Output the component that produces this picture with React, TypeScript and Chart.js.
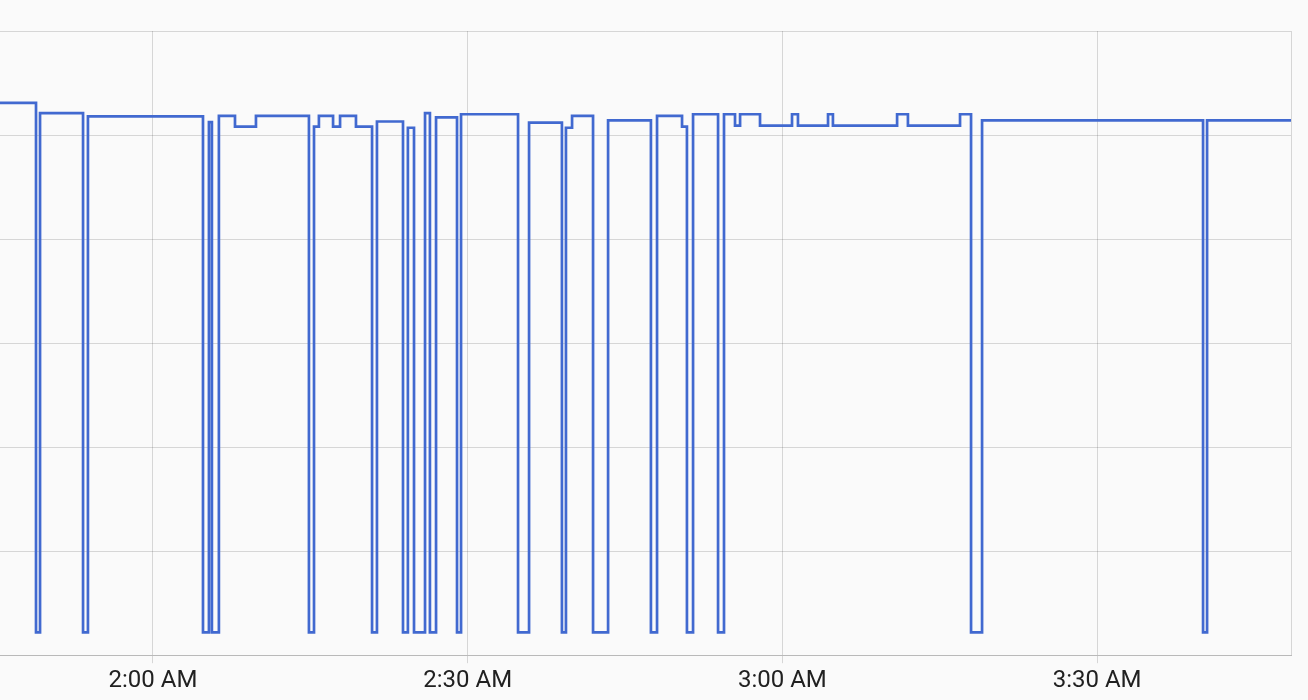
import { useEffect, useRef } from "react";
import { Chart, registerables } from "chart.js";

Chart.register(...registerables);

// Change times (HH:MM:SS, 24h) and the value that holds from each time on
const times = [
  "01:45:25", "01:48:51", "01:49:14", "01:53:20", "01:53:48", "02:04:46", "02:05:20", "02:05:37",
  "02:06:17", "02:07:49", "02:09:49", "02:14:52", "02:15:21", "02:15:49", "02:17:10", "02:17:50",
  "02:19:21", "02:20:53", "02:21:21", "02:23:50", "02:24:18", "02:24:53", "02:25:56", "02:26:24",
  "02:26:59", "02:28:59", "02:29:22", "02:34:48", "02:35:51", "02:38:59", "02:39:22", "02:39:57",
  "02:41:57", "02:43:23", "02:47:28", "02:48:03", "02:50:26", "02:50:54", "02:51:29", "02:53:52",
  "02:54:26", "02:55:29", "02:55:58", "02:57:52", "03:00:55", "03:01:29", "03:04:21", "03:04:49",
  "03:10:56", "03:11:58", "03:16:56", "03:17:59", "03:19:02", "03:40:06", "03:40:29", "03:48:29",
];
const values = [
  53.1, 2.2, 52.1, 2.2, 51.8, 2.2, 51.25, 2.2,
  51.85, 50.8, 51.85, 2.2, 50.8, 51.85, 50.8, 51.85,
  50.8, 2.2, 51.3, 2.2, 50.7, 2.2, 52.1, 2.2,
  51.7, 2.2, 52.0, 2.2, 51.2, 2.2, 50.7, 51.85,
  2.2, 51.4, 2.2, 51.85, 50.8, 2.2, 52.0, 2.2,
  52.0, 50.9, 52.0, 50.9, 52.0, 50.9, 52.0, 50.9,
  52.0, 50.9, 52.0, 2.2, 51.4, 2.2, 51.4, 51.4,
];
const xRange = ["01:45:25", "03:48:29"];
const xStepMinutes = 30;
const yMin = 0;
const yMax = 60;
const yStep = 10;

function toMinutes(t: string): number {
  const [h, m, s] = t.split(":").map(Number);
  return h * 60 + m + s / 60;
}

function formatTime(v: number): string {
  const total = Math.round(v);
  const h = Math.floor(total / 60);
  const m = total % 60;
  const h12 = h % 12 === 0 ? 12 : h % 12;
  return `${h12}:${String(m).padStart(2, "0")} ${h < 12 ? "AM" : "PM"}`;
}

const gridColor = "rgba(0,0,0,0.14)";

export default function App() {
  const ref = useRef<HTMLCanvasElement>(null);
  useEffect(() => {
    if (!ref.current) return;
    const chart = new Chart(ref.current, {
      type: "line",
      data: {
        datasets: [
          {
            data: times.map((t, i) => ({ x: toMinutes(t), y: values[i] })),
            stepped: true,
            borderColor: "#4169d0",
            borderWidth: 2.7,
            pointRadius: 0,
            fill: false,
          },
        ],
      },
      options: {
        animation: false,
        responsive: false,
        layout: { padding: { top: 31, right: 17, left: 0, bottom: 2 } },
        plugins: { legend: { display: false }, tooltip: { enabled: false } },
        scales: {
          x: {
            type: "linear",
            min: toMinutes(xRange[0]),
            max: toMinutes(xRange[1]),
            grid: { color: gridColor, tickLength: 8, lineWidth: 1 },
            border: { color: gridColor, width: 1 },
            ticks: {
              stepSize: xStepMinutes,
              includeBounds: false,
              autoSkip: false,
              maxRotation: 0,
              padding: 3,
              color: "#212121",
              font: { family: "Roboto", size: 24 },
              callback: (v) => formatTime(Number(v)),
            },
          },
          y: {
            min: yMin,
            max: yMax,
            ticks: { display: false, stepSize: yStep },
            grid: { color: gridColor, drawTicks: false, lineWidth: 1 },
            border: { display: false },
          },
          y2: {
            position: "right",
            ticks: { display: false },
            grid: { display: false, drawTicks: false },
            border: { display: true, color: gridColor, width: 1 },
          },
        },
      },
    });
    return () => chart.destroy();
  }, []);
  return (
    <div style={{ position: "fixed", left: 0, top: 0, width: 1308, height: 700, background: "#fafafa" }}>
      <canvas ref={ref} width={1308} height={700} style={{ display: "block" }} />
    </div>
  );
}
